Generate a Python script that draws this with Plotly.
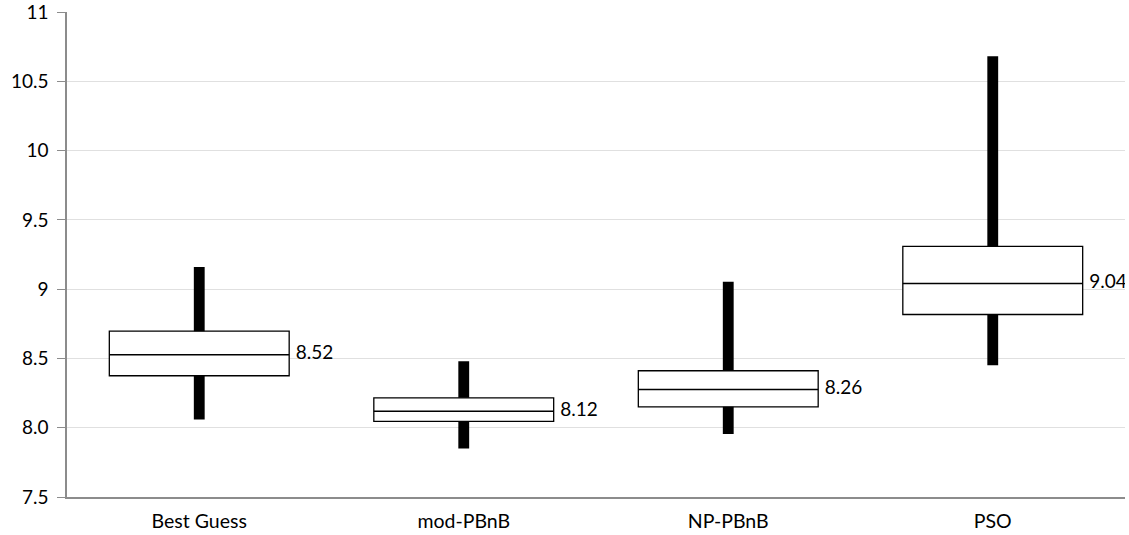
import plotly.graph_objects as go

categories = ["Best Guess", "mod-PBnB", "NP-PBnB", "PSO"]
whisker_low = [8.06, 7.85, 7.955, 8.45]
q1 = [8.375, 8.046, 8.151, 8.817]
median = [8.527, 8.118, 8.276, 9.04]
q3 = [8.697, 8.216, 8.411, 9.308]
whisker_high = [9.16, 8.48, 9.053, 10.68]
median_labels = ["8.52", "8.12", "8.26", "9.04"]

y_tickvals = [7.5, 8.0, 8.5, 9.0, 9.5, 10.0, 10.5, 11.0]
y_ticktext = ["7.5", "8.0", "8.5", "9", "9.5", "10", "10.5", "11"]

xs = list(range(len(categories)))
box_w = 0.68
FONT = "Lato, 'Open Sans', sans-serif"

fig = go.Figure()

# whiskers (thick black bars)
fig.add_trace(go.Bar(
    x=xs,
    base=whisker_low,
    y=[h - l for h, l in zip(whisker_high, whisker_low)],
    width=0.041,
    marker=dict(color="black", line=dict(width=0)),
    hoverinfo="skip",
    showlegend=False,
))

# boxes
fig.add_trace(go.Bar(
    x=xs,
    base=q1,
    y=[b - a for a, b in zip(q1, q3)],
    width=box_w,
    marker=dict(color="white", line=dict(color="black", width=1.3)),
    showlegend=False,
))

# median lines
mx, my = [], []
for i, m in zip(xs, median):
    mx += [i - box_w / 2, i + box_w / 2, None]
    my += [m, m, None]
fig.add_trace(go.Scatter(
    x=mx, y=my, mode="lines",
    line=dict(color="black", width=1.5),
    hoverinfo="skip", showlegend=False,
))

# median labels
fig.add_trace(go.Scatter(
    x=[i + box_w / 2 + 0.025 for i in xs],
    y=median,
    mode="text",
    text=median_labels,
    textposition="middle right",
    textfont=dict(family=FONT, size=19, color="black"),
    hoverinfo="skip", showlegend=False,
))

fig.update_layout(
    width=1129, height=535,
    margin=dict(l=67, r=4, t=12, b=38),
    paper_bgcolor="white", plot_bgcolor="white",
    barmode="overlay",
    font=dict(family=FONT, size=19, color="black"),
    xaxis=dict(
        range=[-0.5, 3.5],
        tickvals=xs, ticktext=categories,
        showgrid=False, zeroline=False,
        showline=True, linecolor="#8c8c8c", linewidth=1.5,
        ticks="", tickfont=dict(size=19.5),
        ticklabelstandoff=6,
        automargin=False,
    ),
    yaxis=dict(
        range=[7.5, 11.0],
        tickvals=y_tickvals, ticktext=y_ticktext,
        showgrid=True, gridcolor="#e0e0e0", gridwidth=1,
        zeroline=False,
        showline=True, linecolor="#8c8c8c", linewidth=1.5,
        ticks="outside", ticklen=8, tickcolor="#8c8c8c",
        tickfont=dict(size=19),
        ticklabelstandoff=5,
        ticklabeloverflow="allow",
        automargin=False,
    ),
)

fig.write_html("out.html")
